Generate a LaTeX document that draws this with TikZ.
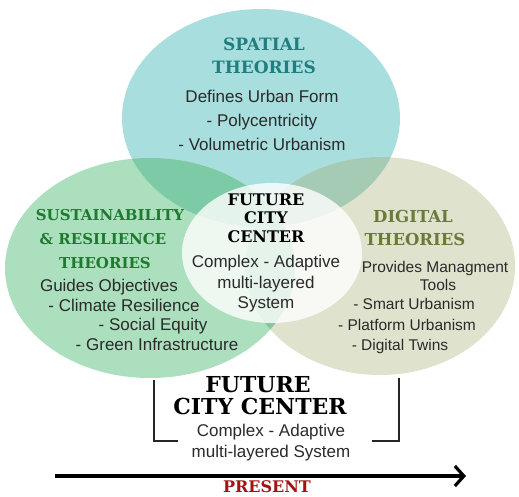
\documentclass[tikz,border=0pt]{standalone}
\usepackage{fontspec}
\setmainfont{Liberation Sans}
\newfontfamily\ttlfont{DejaVu Serif}
\usetikzlibrary{arrows.meta}
\definecolor{spatialc}{HTML}{A9DEDE}
\definecolor{greenc}{HTML}{ABDFBD}
\definecolor{digitalc}{HTML}{DFE3CD}
\definecolor{sgc}{HTML}{7CCBA6}
\definecolor{sdc}{HTML}{A6CBB4}
\definecolor{gdc}{HTML}{86C79C}
\definecolor{sgdc}{HTML}{7FC3A0}
\definecolor{tspatial}{HTML}{1F7F80}
\definecolor{tgreen}{HTML}{1E7A2E}
\definecolor{tdigital}{HTML}{6B7A3A}
\definecolor{tpresent}{HTML}{A01414}
\definecolor{bodyc}{HTML}{2A2A2A}
\tikzset{
  ttl/.style={font=\ttlfont\bfseries\fontsize{#1}{#1}\selectfont, inner sep=0pt, anchor=base},
  bodytxt/.style={font=\fontsize{#1}{#1}\selectfont, text=bodyc, inner sep=0pt, anchor=base},
  bracketline/.style={line width=1.6pt, draw=black!85},
}
\begin{document}
\begin{tikzpicture}[x=1pt,y=-1pt]
\useasboundingbox (0,0) rectangle (519,496);
% ellipses
\path[fill=spatialc] (261,118) ellipse [x radius=139pt, y radius=109pt];
\path[fill=greenc] (150,268) ellipse [x radius=145pt, y radius=110pt];
\path[fill=digitalc] (380,266) ellipse [x radius=135pt, y radius=109pt];
\begin{scope}
  \clip (261,118) ellipse [x radius=139pt, y radius=109pt];
  \path[fill=sgc] (150,268) ellipse [x radius=145pt, y radius=110pt];
  \path[fill=sdc] (380,266) ellipse [x radius=135pt, y radius=109pt];
\end{scope}
\begin{scope}
  \clip (150,268) ellipse [x radius=145pt, y radius=110pt];
  \path[fill=gdc] (380,266) ellipse [x radius=135pt, y radius=109pt];
  \clip (380,266) ellipse [x radius=135pt, y radius=109pt];
  \path[fill=sgdc] (261,118) ellipse [x radius=139pt, y radius=109pt];
\end{scope}
\path[fill=white, fill opacity=0.8] (272,253) ellipse [x radius=90pt, y radius=70pt];

% spatial
\node[ttl=17, text=tspatial] (sp1) at (264,50) {SPATIAL};
\node[ttl=17, text=tspatial] (sp2) at (264,73) {THEORIES};
\node[bodytxt=17] (sp3) at (262,102) {Defines Urban Form};
\node[bodytxt=17] (sp4) at (262,126) {- Polycentricity};
\node[bodytxt=17] (sp5) at (262,150) {- Volumetric Urbanism};

% sustainability
\node[ttl=15, text=tgreen] (g1) at (110,220) {SUSTAINABILITY};
\node[ttl=15, text=tgreen] (g2) at (103,244) {\& RESILIENCE};
\node[ttl=15, text=tgreen] (g3) at (105,268) {THEORIES};
\node[bodytxt=17] (g4) at (109,291) {Guides Objectives};
\node[bodytxt=17] (g5) at (124,311) {- Climate Resilience};
\node[bodytxt=17] (g6) at (153,330) {- Social Equity};
\node[bodytxt=17] (g7) at (157,350) {- Green Infrastructure};

% digital
\node[ttl=16.5, text=tdigital] (d1) at (413,222) {DIGITAL};
\node[ttl=16.5, text=tdigital] (d2) at (415,245) {THEORIES};
\node[bodytxt=15.5] (d3) at (435,272) {Provides Managment};
\node[bodytxt=15.5] (d4) at (438,290) {Tools};
\node[bodytxt=15.5] (d5) at (414,309) {- Smart Urbanism};
\node[bodytxt=15.5] (d6) at (407,330) {- Platform Urbanism};
\node[bodytxt=15.5] (d7) at (400,350) {- Digital Twins};

% center
\node[ttl=16, text=black] (c1) at (266,205) {FUTURE};
\node[ttl=16, text=black] (c2) at (266,223) {CITY};
\node[ttl=16, text=black] (c3) at (266,242) {CENTER};
\node[bodytxt=17] (c4) at (266,267) {Complex - Adaptive};
\node[bodytxt=17] (c5) at (266,288) {multi-layered};
\node[bodytxt=17] (c6) at (266,308) {System};

% bottom
\node[ttl=22, text=black] (b1) at (258,392) {FUTURE};
\node[ttl=22, text=black] (b2) at (260,414) {CITY CENTER};
\node[bodytxt=17] (b3) at (271,436) {Complex - Adaptive};
\node[bodytxt=17] (b4) at (271,457) {multi-layered System};

% bracket
\coordinate (bl1) at (154,380);
\coordinate (bl2) at (154,441);
\coordinate (bl3) at (178,441);
\coordinate (br1) at (399,378);
\coordinate (br2) at (399,441);
\coordinate (br3) at (372,441);
\draw[bracketline] (bl1) -- (bl2) -- (bl3);
\draw[bracketline] (br1) -- (br2) -- (br3);

% arrow
\coordinate (a1) at (55,476);
\coordinate (a2) at (466,476);
\draw[line width=3.2pt, -{Straight Barb[length=9pt,width=20pt]}] (a1) -- (a2);
\node[ttl=16, text=tpresent] (pr) at (267,492) {PRESENT};
\end{tikzpicture}
\end{document}
